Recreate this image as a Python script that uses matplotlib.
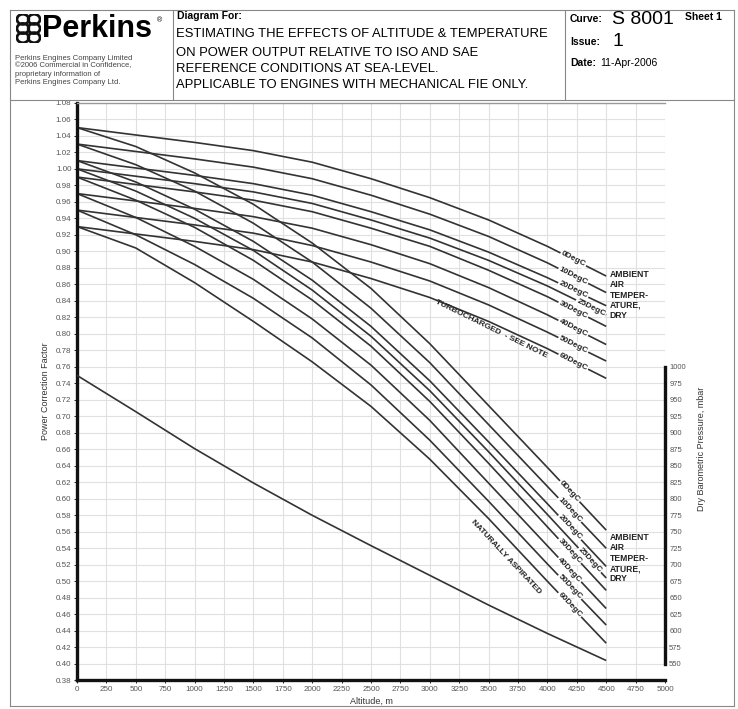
import numpy as np
import matplotlib
matplotlib.use("Agg")
import matplotlib.pyplot as plt
from matplotlib.lines import Line2D
from matplotlib.patches import Ellipse

plt.rcParams['font.family'] = ['Liberation Sans', 'DejaVu Sans']

# altitude grid the curves were read at (m)
altitude = [0, 500, 1000, 1500, 2000, 2500, 3000, 3500, 4000, 4500]
temps = ['0', '10', '20', '25', '30', '40', '50', '60']

# turbocharged (flatter family), one list per ambient temperature
turbo = {
    '0':  [1.050, 1.041, 1.032, 1.022, 1.008, 0.988, 0.965, 0.938, 0.906, 0.870],
    '10': [1.030, 1.021, 1.012, 1.002, 0.988, 0.968, 0.945, 0.918, 0.886, 0.850],
    '20': [1.010, 1.001, 0.992, 0.982, 0.968, 0.948, 0.926, 0.899, 0.868, 0.834],
    '25': [1.000, 0.991, 0.982, 0.972, 0.958, 0.938, 0.916, 0.889, 0.858, 0.823],
    '30': [0.990, 0.981, 0.972, 0.962, 0.948, 0.928, 0.906, 0.877, 0.845, 0.809],
    '40': [0.970, 0.961, 0.952, 0.942, 0.928, 0.908, 0.885, 0.856, 0.823, 0.787],
    '50': [0.950, 0.941, 0.932, 0.922, 0.907, 0.887, 0.864, 0.835, 0.802, 0.767],
    '60': [0.930, 0.921, 0.912, 0.902, 0.887, 0.867, 0.844, 0.815, 0.782, 0.746],
}

# naturally aspirated (steeper family)
natasp = {
    '0':  [1.050, 1.027, 0.995, 0.957, 0.910, 0.855, 0.788, 0.713, 0.638, 0.562],
    '10': [1.030, 1.005, 0.973, 0.934, 0.887, 0.831, 0.765, 0.690, 0.615, 0.540],
    '20': [1.010, 0.984, 0.951, 0.912, 0.865, 0.809, 0.743, 0.669, 0.594, 0.518],
    '25': [1.000, 0.973, 0.940, 0.901, 0.853, 0.797, 0.731, 0.657, 0.581, 0.504],
    '30': [0.990, 0.962, 0.929, 0.889, 0.841, 0.785, 0.718, 0.643, 0.566, 0.489],
    '40': [0.970, 0.941, 0.906, 0.866, 0.818, 0.762, 0.695, 0.619, 0.543, 0.467],
    '50': [0.950, 0.920, 0.884, 0.843, 0.795, 0.738, 0.671, 0.597, 0.521, 0.447],
    '60': [0.930, 0.904, 0.862, 0.815, 0.766, 0.712, 0.648, 0.576, 0.500, 0.425],
}

# dry barometric pressure (mbar), right axis
pressure = [987, 932, 876, 824, 775, 729, 684, 639, 596, 555]

W, H = 738, 709
fig = plt.figure(figsize=(W / 100, H / 100), dpi=100)


def fx(x):
    return x / W


def fy(y):
    return 1 - y / H


def hline(x0, x1, y, **kw):
    fig.add_artist(Line2D([fx(x0), fx(x1)], [fy(y), fy(y)], transform=fig.transFigure, **kw))


def vline(x, y0, y1, **kw):
    fig.add_artist(Line2D([fx(x), fx(x)], [fy(y0), fy(y1)], transform=fig.transFigure, **kw))


# ---- header block ----
frame = dict(color='#888888', lw=0.8)
hline(10, 734, 10, **frame)
hline(10, 734, 100, **frame)
hline(10, 734, 706, **frame)
vline(10, 10, 706, **frame)
vline(734, 10, 706, **frame)
vline(173, 10, 100, **frame)
vline(565, 10, 100, **frame)

# rough knot logo
lax = fig.add_axes([fx(16), fy(43), fx(25), 29 / H])
lax.set_xlim(0, 2)
lax.set_ylim(0, 3)
lax.axis('off')
for cx in (0.55, 1.45):
    for cy in (0.55, 1.5, 2.45):
        lax.add_patch(Ellipse((cx, cy), 0.95, 1.05, fill=False, lw=2.0, color='#111111'))

fig.text(fx(42), fy(29), 'Perkins', fontsize=22, fontweight='bold', va='center', ha='left')
fig.text(fx(157), fy(21), '®', fontsize=5, va='center', ha='left')
small = ['Perkins Engines Company Limited', '\u00a92006 Commercial in Confidence,',
         'proprietary information of', 'Perkins Engines Company Ltd.']
for i, s in enumerate(small):
    fig.text(fx(15), fy(58 + 8 * i), s, fontsize=5.5, color='#444444', va='center')

fig.text(fx(177), fy(16), 'Diagram For:', fontsize=7.5, fontweight='bold', va='center')
title = ['ESTIMATING THE EFFECTS OF ALTITUDE & TEMPERATURE',
         'ON POWER OUTPUT RELATIVE TO ISO AND SAE',
         'REFERENCE CONDITIONS AT SEA-LEVEL.',
         'APPLICABLE TO ENGINES WITH MECHANICAL FIE ONLY.']
for s, yy in zip(title, [34, 53, 69, 85]):
    fig.text(fx(176), fy(yy), s, fontsize=9.4, va='center')

fig.text(fx(570), fy(19), 'Curve:', fontsize=7.5, fontweight='bold', va='center')
fig.text(fx(612), fy(19), 'S 8001', fontsize=14, va='center')
fig.text(fx(685), fy(17), 'Sheet 1', fontsize=7.5, fontweight='bold', va='center')
fig.text(fx(570), fy(42), 'Issue:', fontsize=7.5, fontweight='bold', va='center')
fig.text(fx(612), fy(42), '1', fontsize=14, va='center')
fig.text(fx(570), fy(63), 'Date:', fontsize=7.5, fontweight='bold', va='center')
fig.text(fx(600), fy(63), '11-Apr-2006', fontsize=7.5, va='center')

# ---- chart ----
x0, x1, ytop, ybot = 77, 665, 102.8, 680.3
ax = fig.add_axes([x0 / W, 1 - ybot / H, (x1 - x0) / W, (ybot - ytop) / H])
ax.set_xlim(0, 5000)
ax.set_ylim(0.38, 1.08)
ax.set_xticks(np.arange(0, 5001, 250))
ax.set_yticks(np.arange(0.38, 1.0801, 0.02))
ax.set_yticklabels(['%.2f' % v for v in np.arange(0.38, 1.0801, 0.02)])
ax.grid(True, color='#e0e0e0', lw=0.8)
ax.set_axisbelow(True)
ax.tick_params(labelsize=5.8, labelcolor='#555555', length=2, width=0.6, pad=2)
for s in ['left', 'bottom']:
    ax.spines[s].set_linewidth(2.4)
    ax.spines[s].set_color('#111111')
ax.spines['top'].set_color('#999999')
ax.spines['top'].set_linewidth(1)
ax.spines['right'].set_visible(False)
ax.set_xlabel('Altitude, m', fontsize=6.5, color='#333333', labelpad=3)
ax.set_ylabel('Power Correction Factor', fontsize=6.5, color='#333333', labelpad=4)

ax2 = ax.twinx()
ax2.set_ylim(525, 1400)
ax2.set_yticks(np.arange(550, 1001, 25))
ax2.tick_params(labelsize=5.5, labelcolor='#555555', length=0, pad=3)
for s in ['left', 'bottom', 'top']:
    ax2.spines[s].set_visible(False)
ax2.spines['right'].set_linewidth(2.4)
ax2.spines['right'].set_color('#111111')
ax2.spines['right'].set_bounds(550, 1000)
ax2.set_ylabel('Dry Barometric Pressure, mbar', fontsize=6.5, color='#333333', labelpad=8)
ax2.yaxis.set_label_coords(1.055, 0.4)

line_kw = dict(color='#333333', lw=1.2, solid_capstyle='butt')
for t in temps:
    ax.plot(altitude, turbo[t], **line_kw)
    ax.plot(altitude, natasp[t], **line_kw)
ax2.plot(altitude, pressure, **line_kw)


def angle_at(xs, ys, a):
    y1 = np.interp(a - 100, xs, ys)
    y2 = np.interp(a + 100, xs, ys)
    p1 = ax.transData.transform((a - 100, y1))
    p2 = ax.transData.transform((a + 100, y2))
    return np.degrees(np.arctan2(p2[1] - p1[1], p2[0] - p1[0]))


def curve_label(xs, ys, a, text, size=6):
    yv = np.interp(a, xs, ys)
    ax.text(a, yv, text, fontsize=size, fontweight='bold', color='#222222',
            rotation=angle_at(xs, ys, a), rotation_mode='anchor',
            ha='center', va='center',
            bbox=dict(facecolor='white', edgecolor='none', pad=0.6), zorder=5)


for t in temps:
    a = 4370 if t == '25' else 4220
    curve_label(altitude, turbo[t], a, t + 'DegC')
    a = 4360 if t == '25' else 4190
    curve_label(altitude, natasp[t], a, t + 'DegC')

ang = angle_at(altitude, turbo['60'], 3550)
ax.text(3520, 0.806, 'TURBOCHARGED  - SEE NOTE', fontsize=6, fontweight='bold',
        rotation=ang - 2, rotation_mode='anchor', ha='center', va='center', color='#222222')
ang = angle_at(altitude, natasp['60'], 3600)
ax.text(3650, 0.530, 'NATURALLY ASPIRATED', fontsize=6, fontweight='bold',
        rotation=ang, rotation_mode='anchor', ha='center', va='center', color='#222222')

amb = 'AMBIENT\nAIR\nTEMPER-\nATURE,\nDRY'
ax.text(4530, 0.847, amb, fontsize=6.2, fontweight='bold', ha='left', va='center',
        linespacing=1.2, color='#222222')
ax.text(4530, 0.528, amb, fontsize=6.2, fontweight='bold', ha='left', va='center',
        linespacing=1.2, color='#222222')

fig.savefig('out.png', dpi=100)
